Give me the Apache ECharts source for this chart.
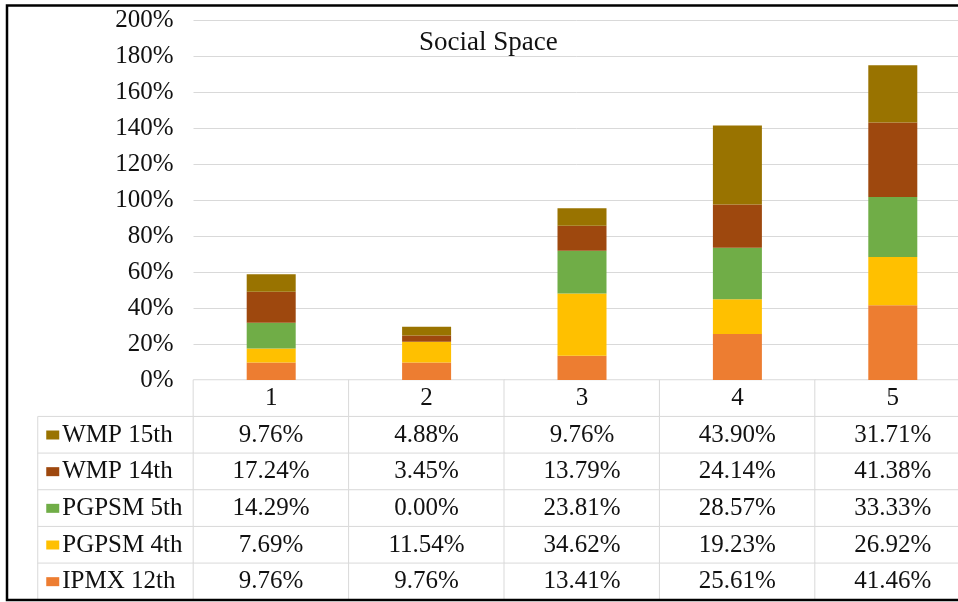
<!DOCTYPE html>
<html>
<head>
<meta charset="utf-8">
<script src="https://cdn.jsdelivr.net/npm/echarts@6/dist/echarts.min.js"></script>
<style>
html,body{margin:0;padding:0;background:#fff;}
#chart{width:958px;height:602px;}
</style>
</head>
<body>
<div id="chart"></div>
<script>
// ---- data ----
const categories = ['1', '2', '3', '4', '5'];
const seriesNames = ['IPMX 12th', 'PGPSM 4th', 'PGPSM 5th', 'WMP 14th', 'WMP 15th'];
const ipmx12 = [9.76, 9.76, 13.41, 25.61, 41.46];
const pgpsm4 = [7.69, 11.54, 34.62, 19.23, 26.92];
const pgpsm5 = [14.29, 0.00, 23.81, 28.57, 33.33];
const wmp14 = [17.24, 3.45, 13.79, 24.14, 41.38];
const wmp15 = [9.76, 4.88, 9.76, 43.90, 31.71];
const yMin = 0, yMax = 200, yStep = 20;
const title = 'Social Space';

// ---- styles ----
const seriesValues = [ipmx12, pgpsm4, pgpsm5, wmp14, wmp15];
const colors = ['#ED7D31', '#FFC000', '#70AD47', '#9E480E', '#997300'];
const FONT = '"Liberation Serif", "Times New Roman", serif';
const TXT = '#111111';
const GRID = '#d9d9d9';
const FS = 25;

// table rows top->bottom: reverse of stacking order
const rowSeries = seriesNames.map((_, i) => seriesNames.length - 1 - i);
const tableX = [''].concat(categories);
const tableY = ['hdr'].concat(rowSeries.map(i => seriesNames[i]));

const tableData = [];
categories.forEach((c, ci) => tableData.push({ value: [ci + 1, 0, 0] }));
rowSeries.forEach((si, ri) => {
  tableData.push({ value: [0, ri + 1, 0], label: { position: 'insideLeft', distance: 9 } });
  categories.forEach((c, ci) => tableData.push({ value: [ci + 1, ri + 1, seriesValues[si][ci]] }));
});

const rich = { t: { fontFamily: FONT, fontSize: FS, color: TXT, padding: [0, 0, 0, 3] } };
colors.forEach((col, i) => { rich['k' + i] = { width: 13, height: 9, backgroundColor: col }; });

const chart = echarts.init(document.getElementById('chart'));
const option = {
  animation: false,
  backgroundColor: '#fff',
  title: {
    text: title, left: 419, top: 29, padding: 0,
    textStyle: { fontFamily: FONT, fontSize: 27, fontWeight: 'normal', color: TXT }
  },
  grid: [
    { left: 193.5, width: 777, top: 20, height: 360, outerBoundsMode: 'none', containLabel: false },
    { left: 38, width: 932.5, top: 380, height: 220, outerBoundsMode: 'none', containLabel: false }
  ],
  xAxis: [
    { gridIndex: 0, type: 'category', data: categories, axisLine: { show: false }, axisTick: { show: false }, axisLabel: { show: false } },
    { gridIndex: 1, type: 'category', data: tableX, show: false }
  ],
  yAxis: [
    {
      gridIndex: 0, type: 'value', min: yMin, max: yMax, interval: yStep,
      axisLine: { show: false }, axisTick: { show: false },
      splitLine: { lineStyle: { color: GRID, width: 1 } },
      axisLabel: { formatter: '{value}%', fontFamily: FONT, fontSize: FS, color: TXT, margin: 20 }
    },
    { gridIndex: 1, type: 'category', data: tableY, inverse: true, show: false }
  ],
  visualMap: {
    show: false, type: 'continuous', seriesIndex: 5, min: 0, max: 100,
    inRange: { color: ['#ffffff', '#ffffff'] }
  },
  series: seriesNames.map((name, i) => ({
    name: name, type: 'bar', stack: 'total', xAxisIndex: 0, yAxisIndex: 0,
    data: seriesValues[i], barWidth: 49,
    itemStyle: { color: colors[i] },
    emphasis: { disabled: true }
  })).concat([{
    type: 'heatmap', xAxisIndex: 1, yAxisIndex: 1,
    data: tableData,
    itemStyle: { color: '#fff', borderColor: GRID, borderWidth: 1 },
    emphasis: { disabled: true },
    label: {
      show: true, fontFamily: FONT, fontSize: FS, color: TXT, rich: rich,
      formatter: function (p) {
        const x = p.value[0], y = p.value[1];
        if (y === 0) return categories[x - 1];
        const si = rowSeries[y - 1];
        if (x === 0) return '{k' + si + '|}{t|' + seriesNames[si] + '}';
        return seriesValues[si][x - 1].toFixed(2) + '%';
      }
    }
  }]),
  graphic: [{
    type: 'rect', z: 100, silent: true,
    shape: { x: 7, y: 5.5, width: 1000, height: 594.5 },
    style: { fill: 'none', stroke: '#000', lineWidth: 2.5 }
  }]
};
chart.setOption(option);
</script>
</body>
</html>
